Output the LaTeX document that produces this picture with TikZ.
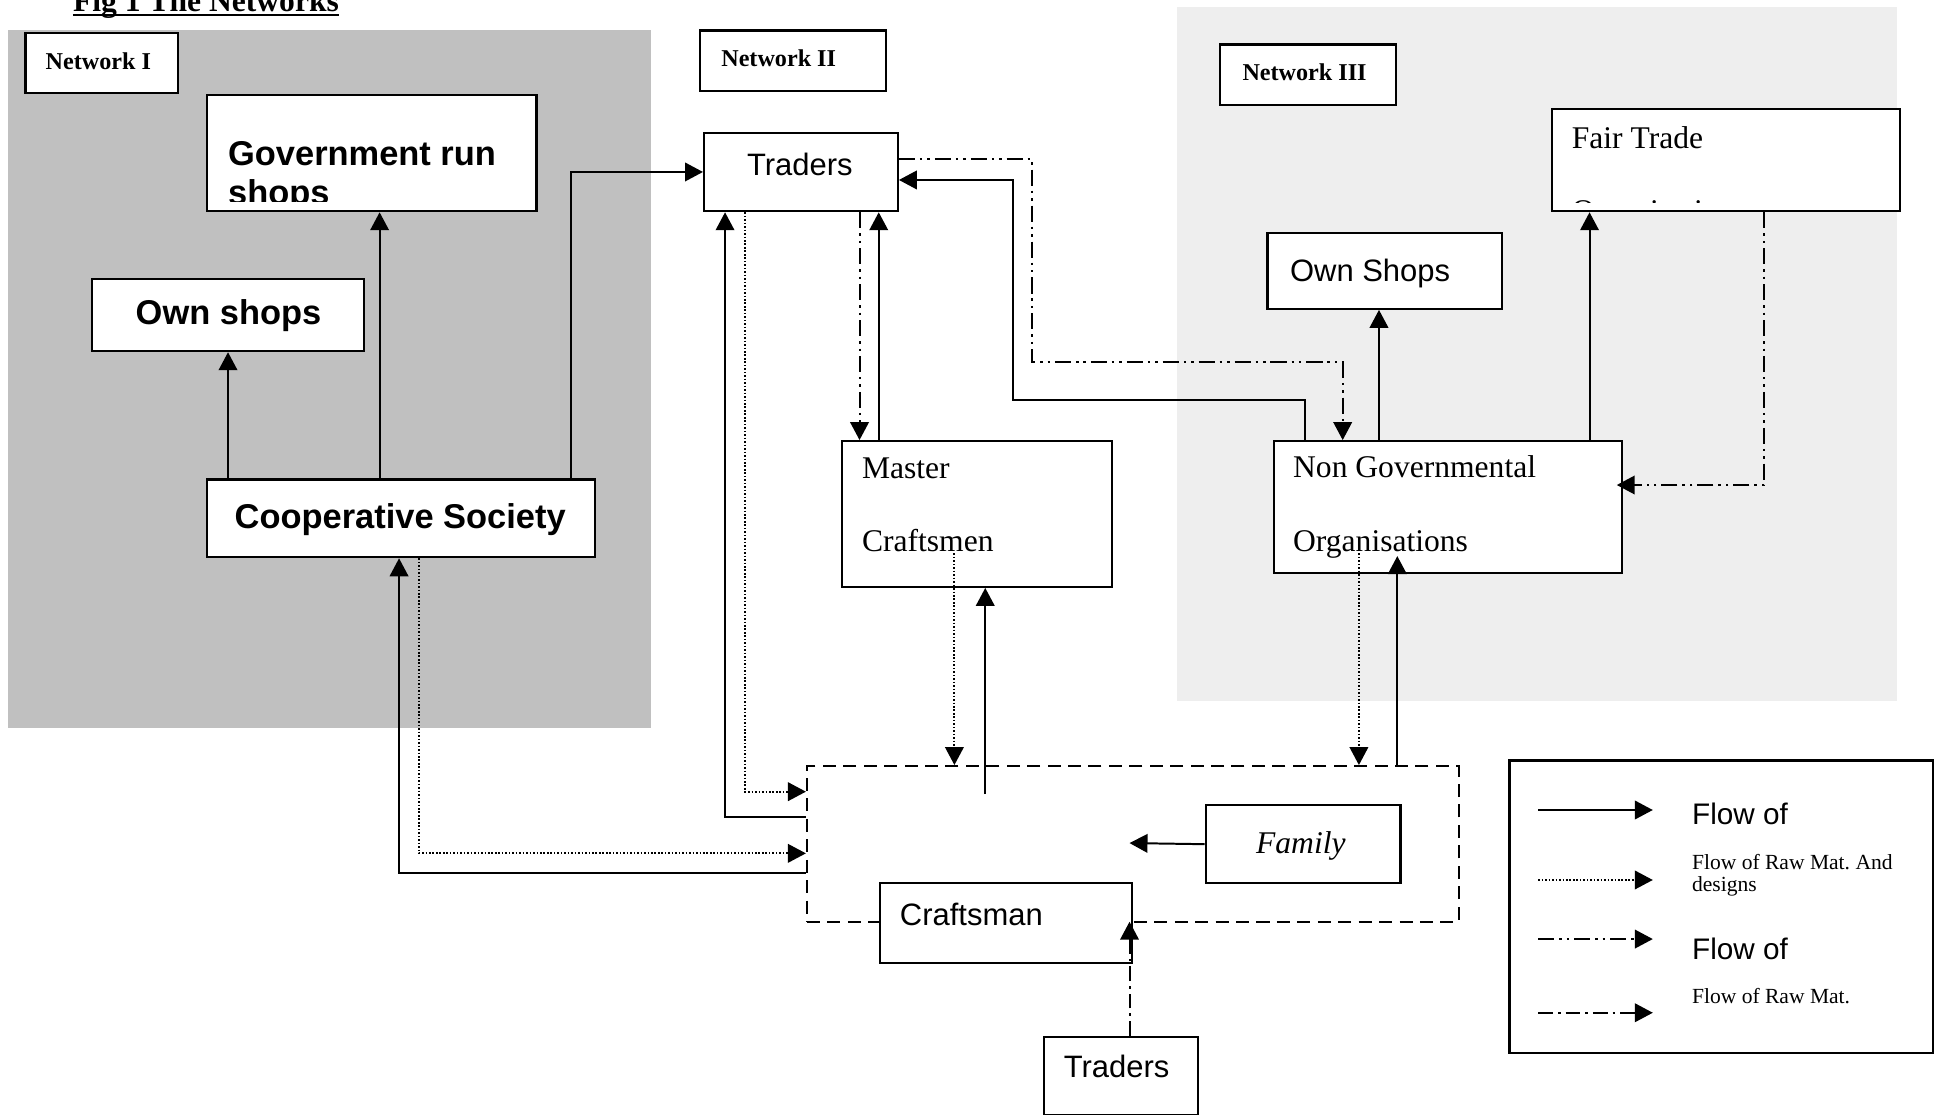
\documentclass[tikz,border=0pt]{standalone}
\usepackage{fontspec}
\setmainfont{Liberation Serif}
\newfontfamily\arialfont{Liberation Sans}
\usetikzlibrary{arrows.meta}
\definecolor{netgrey}{HTML}{C0C0C0}
\definecolor{netlight}{HTML}{EEEEEE}
\tikzset{
  box/.style={draw, line width=1.8pt, fill=white, anchor=north west, inner sep=0pt},
  txt/.style={anchor=base west, inner sep=0pt, align=left},
  flow/.style={line width=1.6pt, -{Triangle[length=14.5pt,width=15pt]}},
  design/.style={flow, line width=1.5pt, dash pattern=on 1.3pt off 1.5pt},
  rawdd/.style={flow, dash pattern=on 13pt off 4pt on 2pt off 4pt on 2pt off 4pt},
  rawdot/.style={flow, dash pattern=on 12pt off 4pt on 2pt off 4pt},
  sansbold/.style={font=\arialfont\bfseries\fontsize{27.8}{31}\selectfont},
  sans/.style={font=\arialfont\fontsize{25}{30}\selectfont},
  serif/.style={font=\fontsize{25.5}{59.2}\selectfont},
  nettxt/.style={font=\bfseries\fontsize{19.5}{23}\selectfont},
  legsans/.style={font=\arialfont\fontsize{24}{28}\selectfont},
  legserif/.style={font=\fontsize{17.4}{18}\selectfont},
}
\begin{document}
\begin{tikzpicture}[x=1pt,y=-1pt]
        \useasboundingbox (0,0) rectangle (1568,900);
        % network areas
        \fill[netgrey] (6.1,24.2) rectangle (525.8,587.5);
        \fill[netlight] (950.5,6) rectangle (1531.9,566);
        % title
        \node[txt, font=\bfseries\fontsize{25.5}{30}\selectfont] (title) at (58.8,9.4) {Fig 1 The Networks};
        \draw[line width=2pt] ([yshift=-2.7pt]title.base west) -- ([yshift=-2.7pt]title.base east);
        % boxes
        \node[box, minimum width=123pt, minimum height=48.4pt] (netI) at (19.7,25.6) {};
        \node[box, minimum width=150.7pt, minimum height=49pt] (netII) at (564,23.7) {};
        \node[box, minimum width=142.4pt, minimum height=49pt] (netIII) at (983.9,35) {};
        \node[box, minimum width=265.8pt, minimum height=93.7pt] (govshops) at (166.5,75.9) {};
        \node[box, minimum width=219.6pt, minimum height=58.4pt] (ownshops) at (73.4,224.2) {};
        \node[box, minimum width=312.7pt, minimum height=62.8pt] (coop) at (166.5,386.2) {};
        \node[box, minimum width=156.4pt, minimum height=63.3pt] (traders) at (567.6,106.3) {};
        \node[box, minimum width=218.1pt, minimum height=117.6pt] (master) at (678.9,355.3) {};
        \node[box, minimum width=280.8pt, minimum height=106.3pt] (ngo) at (1027.8,355.3) {};
        \node[box, minimum width=189.2pt, minimum height=61.4pt] (ngoshops) at (1022.5,187) {};
        \node[box, minimum width=281.4pt, minimum height=82.6pt] (fairtrade) at (1252,87) {};
        \node[box, fill=none, line width=1.6pt, dash pattern=on 10.5pt off 6pt,
              minimum width=526.3pt, minimum height=125.7pt] (crafts) at (650.7,617.7) {};
        \node[box, minimum width=157.2pt, minimum height=63pt] (family) at (972.6,649.2) {};
        \node[box, minimum width=203.6pt, minimum height=64.6pt] (craftsman) at (709.5,712.2) {};
        \node[box, minimum width=124.3pt, minimum height=63.3pt] (traderslow) at (841.8,836.2) {};
        \node[box, minimum width=341.8pt, minimum height=236.1pt] (legend) at (1217.9,613.1) {};
        % texts (base of a two-line text is its last line)
        \node[txt, nettxt] (netItxt) at (36.7,56.5) {Network I};
        \node[txt, nettxt] (netIItxt) at (582.2,53.8) {Network II};
        \node[txt, nettxt] (netIIItxt) at (1003,64.6) {Network III};
        \begin{scope}
          \clip (govshops.north west) rectangle ([yshift=8.5pt]govshops.south east);
          \node[txt, sansbold] (govtxt) at (184,164.8) {Government run\\shops};
        \end{scope}
        \node[txt, sansbold] (ownshopstxt) at (109.4,262.4) {Own shops};
        \node[txt, sansbold] (cooptxt) at (189.3,426.6) {Cooperative Society};
        \node[txt, sans] (traderstxt) at (603,141.3) {Traders};
        \node[txt, serif] (mastertxt) at (695.8,445.4) {Master\\Craftsmen};
        \node[txt, serif] (ngotxt) at (1043.9,444.9) {Non Governmental\\Organisations};
        \node[txt, sans] (ngoshopstxt) at (1041.4,227.4) {Own Shops};
        \begin{scope}
          \clip (fairtrade.north west) rectangle ([yshift=8pt]fairtrade.south east);
          \node[txt, serif, font=\fontsize{25.5}{59}\selectfont] (fttxt) at (1268.9,178.5) {Fair Trade\\Organisations};
        \end{scope}
        \node[txt, font=\itshape\fontsize{25.5}{30}\selectfont] (familytxt) at (1014,689) {Family};
        \node[txt, sans] (craftsmantxt) at (726.4,746.9) {Craftsman};
        \node[txt, sans] (traderslowtxt) at (858.7,869.9) {Traders};
        % lanes and turns
        \coordinate (lgov) at (306.5,0);
        \coordinate (lcooptr) at (461.2,0);
        \coordinate (ltrup) at (0,128.4);
        \coordinate (ddturn) at (833.2,292.4);
        \coordinate (lngodd) at (1084.1,0);
        \coordinate (lngosol) at (1053.9,0);
        \coordinate (solturn) at (817.7,323);
        \coordinate (ltrin) at (0,145.3);
        \coordinate (ltrmdd) at (694,0);
        \coordinate (lmtr) at (709.5,0);
        \coordinate (ltrsol) at (585.4,0);
        \coordinate (ltrdot) at (601.5,0);
        \coordinate (lcdot) at (0,639.2);
        \coordinate (lcsol) at (0,660);
        \coordinate (lcoopsol) at (322.2,0);
        \coordinate (lcoopdot) at (338.2,0);
        \coordinate (lkdot) at (0,689);
        \coordinate (lksol) at (0,705.2);
        \coordinate (lmdot) at (770.6,446.8);
        \coordinate (lmsol) at (795.5,641.1);
        \coordinate (lndot) at (1097.2,446.8);
        \coordinate (lnsol) at (1128.2,449);
        \coordinate (lnshop) at (1113.4,0);
        \coordinate (lnft) at (1283.4,0);
        \coordinate (lftdd) at (1424.2,0);
        \coordinate (lftin) at (0,391.6);
        \coordinate (famend) at (912,680.7);
        \coordinate (ltl) at (912,0);
        \coordinate (tlend) at (912,744.2);
        % network I
        \draw[flow] (coop.north -| ownshops.south) -- (ownshops.south);
        \draw[flow] (coop.north -| lgov) -- (govshops.south -| lgov);
        \draw[flow] (coop.north -| lcooptr) |- (traders.west);
        % network II
        \draw[rawdd] (traders.east |- ltrup) -| (ddturn) -| (ngo.north -| lngodd);
        \draw[flow] (ngo.north -| lngosol) |- (solturn) |- (traders.east |- ltrin);
        \draw[rawdd] (traders.south -| ltrmdd) -- (master.north -| ltrmdd);
        \draw[flow] (master.north -| lmtr) -- (traders.south -| lmtr);
        \draw[flow] (crafts.west |- lcsol) -| (traders.south -| ltrsol);
        \draw[design] (traders.south -| ltrdot) |- (crafts.west |- lcdot);
        \draw[design] (lmdot) -- (crafts.north -| lmdot);
        \draw[flow] (lmsol) -- (master.south -| lmsol);
        % craftsman and cooperative
        \draw[flow] (crafts.west |- lksol) -| (coop.south -| lcoopsol);
        \draw[design] (coop.south -| lcoopdot) |- (crafts.west |- lkdot);
        % network III
        \draw[design] (lndot) -- (crafts.north -| lndot);
        \draw[flow] (crafts.north -| lnsol) -- (lnsol);
        \draw[flow] (ngo.north -| lnshop) -- (ngoshops.south -| lnshop);
        \draw[flow] (ngo.north -| lnft) -- (fairtrade.south -| lnft);
        \draw[rawdd, shorten >=-5pt] (fairtrade.south -| lftdd) |- (ngo.east |- lftin);
        % family and traders
        \draw[flow] (family.west) -- (famend);
        \draw[rawdot] (traderslow.north -| ltl) -- (tlend);
        % legend
        \coordinate (k1a) at (1242,654);   \coordinate (k1b) at (1334.5,654);
        \coordinate (k2a) at (1242,710.5); \coordinate (k2b) at (1334.5,710.5);
        \coordinate (k3a) at (1242,758.2); \coordinate (k3b) at (1334.5,758.2);
        \coordinate (k4a) at (1242,817.7); \coordinate (k4b) at (1334.5,817.7);
        \draw[flow] (k1a) -- (k1b);
        \draw[design] (k2a) -- (k2b);
        \draw[rawdd] (k3a) -- (k3b);
        \draw[rawdot] (k4a) -- (k4b);
        \node[txt, legsans] (k1txt) at (1366,666) {Flow of};
        \node[txt, legserif] (k2txt) at (1366,720) {Flow of Raw Mat.\ And\\designs};
        \node[txt, legsans] (k3txt) at (1366,775) {Flow of};
        \node[txt, legserif] (k4txt) at (1366,810) {Flow of Raw Mat.};
\end{tikzpicture}
\end{document}
